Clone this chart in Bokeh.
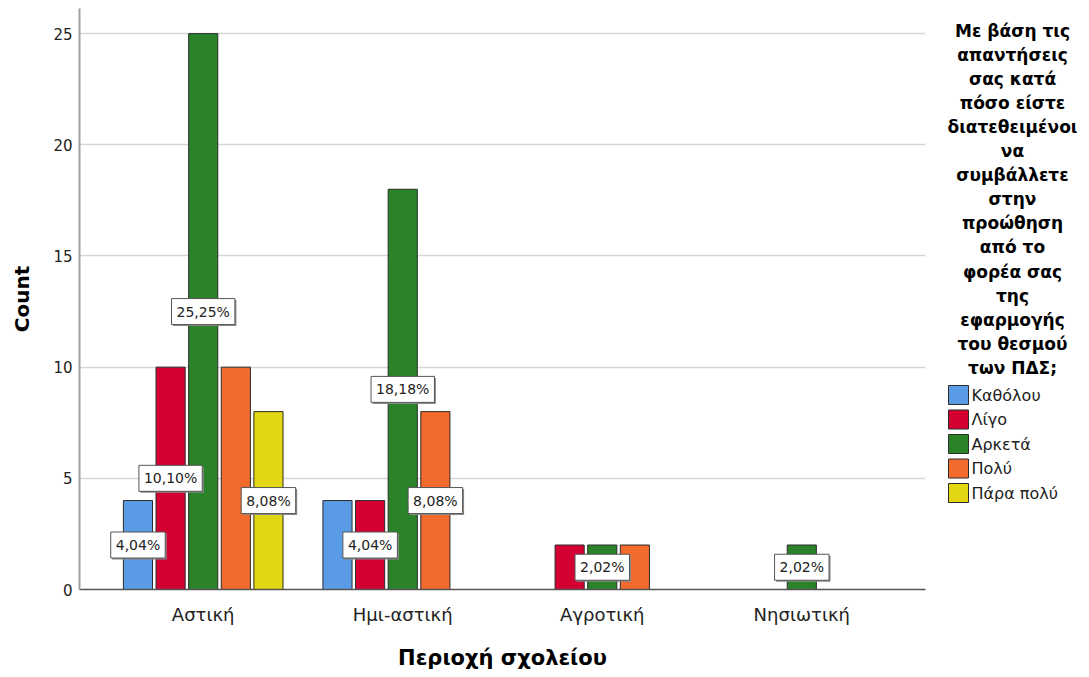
from bokeh.plotting import figure
from bokeh.models import FactorRange, Range1d, ColumnDataSource
from bokeh.transform import dodge
from bokeh.layouts import row
from bokeh.embed import file_html
from bokeh.resources import INLINE
from bokeh.core.properties import value

# ---------------- data ----------------
categories = ["Αστική", "Ημι-αστική", "Αγροτική", "Νησιωτική"]
series = ["Καθόλου", "Λίγο", "Αρκετά", "Πολύ", "Πάρα πολύ"]
katholou = [4, 4, 0, 0]
ligo = [10, 4, 2, 0]
arketa = [25, 18, 2, 2]
poly = [10, 8, 2, 0]
para_poly = [8, 0, 0, 0]
series_values = [katholou, ligo, arketa, poly, para_poly]
colors = ["#5A9BE6", "#D50032", "#2A8229", "#F26B2C", "#E3D612"]
y_ticks = [0, 5, 10, 15, 20, 25]
x_title = "Περιοχή σχολείου"
y_title = "Count"
legend_title_lines = ["Με βάση τις", "απαντήσεις", "σας κατά", "πόσο είστε",
                      "διατεθειμένοι", "να", "συμβάλλετε", "στην", "προώθηση",
                      "από το", "φορέα σας", "της", "εφαρμογής", "του θεσμού",
                      "των ΠΔΣ;"]
# bars whose percentage label is visible
labelled = [("Αστική", "Καθόλου"), ("Αστική", "Λίγο"), ("Αστική", "Αρκετά"),
            ("Αστική", "Πάρα πολύ"), ("Ημι-αστική", "Λίγο"),
            ("Ημι-αστική", "Αρκετά"), ("Ημι-αστική", "Πολύ"),
            ("Αγροτική", "Αρκετά"), ("Νησιωτική", "Αρκετά")]

total = sum(sum(v) for v in series_values)
FONT = "DejaVu Sans"

TOP = 8
FH = 581
BOT = 82

# ---------------- main chart ----------------
p = figure(
    x_range=FactorRange(factors=categories, range_padding=0.12,
                        range_padding_units="absolute"),
    y_range=Range1d(0, 26.13),
    frame_width=846, frame_height=FH,
    min_border_left=79, min_border_right=10, min_border_top=TOP,
    min_border_bottom=BOT,
    output_backend="svg", toolbar_location=None,
)
p.outline_line_color = None
p.background_fill_color = "white"
p.border_fill_color = "white"
p.xgrid.visible = False
p.ygrid.grid_line_color = "#d6d6d6"
p.ygrid.grid_line_width = 1.5
p.yaxis.ticker = y_ticks

p.yaxis.axis_line_color = "#a0a0a0"
p.yaxis.axis_line_width = 2
p.xaxis.axis_line_color = "#555555"
p.xaxis.axis_line_width = 1.5
for ax in (p.xaxis, p.yaxis):
    ax.major_tick_line_color = None
    ax.minor_tick_line_color = None
    ax.major_label_text_font = FONT
    ax.major_label_text_color = "#222222"
    ax.axis_label_text_font = FONT
    ax.axis_label_text_font_style = "bold"
    ax.axis_label_text_color = "#000000"

p.yaxis.axis_label = y_title
p.yaxis.axis_label_text_font_size = "20px"
p.yaxis.major_label_text_font_size = "15px"
p.yaxis.major_label_standoff = 1
p.yaxis.axis_label_standoff = 16
p.xaxis.axis_label = x_title
p.xaxis.axis_label_text_font_size = "21px"
p.xaxis.major_label_text_font_size = "18px"
p.xaxis.major_label_standoff = 8
p.xaxis.axis_label_standoff = 18

slot = 0.1635
bar_w = 0.146
for i, (name, vals) in enumerate(zip(series, series_values)):
    off = (i - 2) * slot
    cats = [c for c, v in zip(categories, vals) if v > 0]
    tops = [v for v in vals if v > 0]
    src = ColumnDataSource(dict(cat=cats, val=tops))
    p.vbar(x=dodge("cat", off, range=p.x_range), top="val", width=bar_w,
           source=src, fill_color=colors[i], line_color="#2b2b2b",
           line_width=1)

for i, (name, vals) in enumerate(zip(series, series_values)):
    off = (i - 2) * slot
    lc, lm, lt = [], [], []
    for c, v in zip(categories, vals):
        if (c, name) in labelled:
            lc.append(c)
            lm.append(v / 2)
            lt.append(("%.2f" % (v / total * 100)).replace(".", ",") + "%")
    if not lc:
        continue
    lsrc = ColumnDataSource(dict(cat=lc, mid=lm, lab=lt))
    # shadow
    p.text(x=dodge("cat", off, range=p.x_range), y="mid", text="lab",
           source=lsrc, text_align="center", text_baseline="middle",
           text_font=value(FONT), text_font_size="14px", text_alpha=0,
           x_offset=1.5, y_offset=1.5, padding=5,
           background_fill_color="#8a8a8a", border_line_color=None)
    p.text(x=dodge("cat", off, range=p.x_range), y="mid", text="lab",
           source=lsrc, text_align="center", text_baseline="middle",
           text_font=value(FONT), text_font_size="14px", text_color="#222222",
           padding=5, background_fill_color="white",
           border_line_color="#555555", border_line_width=1)

# ---------------- legend panel ----------------
LW = 146
lf = figure(frame_width=LW, frame_height=FH,
            x_range=Range1d(0, LW), y_range=Range1d(FH, 0),
            min_border_left=0, min_border_right=0, min_border_top=TOP,
            min_border_bottom=BOT, x_axis_location=None, y_axis_location=None,
            output_backend="svg", toolbar_location=None)
lf.outline_line_color = None
lf.grid.visible = False
lf.background_fill_color = "white"
lf.border_fill_color = "white"

tsrc = ColumnDataSource(dict(
    x=[77] * len(legend_title_lines),
    y=[22 + 24.1 * k for k in range(len(legend_title_lines))],
    t=legend_title_lines))
lf.text(x="x", y="y", text="t", source=tsrc, text_align="center",
        text_baseline="middle", text_font=value(FONT),
        text_font_style="bold", text_font_size="17px", text_color="#000000")

isrc = ColumnDataSource(dict(
    x=[23] * len(series),
    y=[386.5 + 24.5 * k for k in range(len(series))],
    tx=[36] * len(series),
    c=colors, t=series))
lf.rect(x="x", y="y", width=20, height=19, source=isrc, fill_color="c",
        line_color="#2b2b2b", line_width=1)
lf.text(x="tx", y="y", text="t", source=isrc, text_align="left",
        text_baseline="middle", text_font=value(FONT), text_font_size="16px",
        text_color="#222222")

layout = row(p, lf)
open("out.html", "w").write(file_html(layout, INLINE))
